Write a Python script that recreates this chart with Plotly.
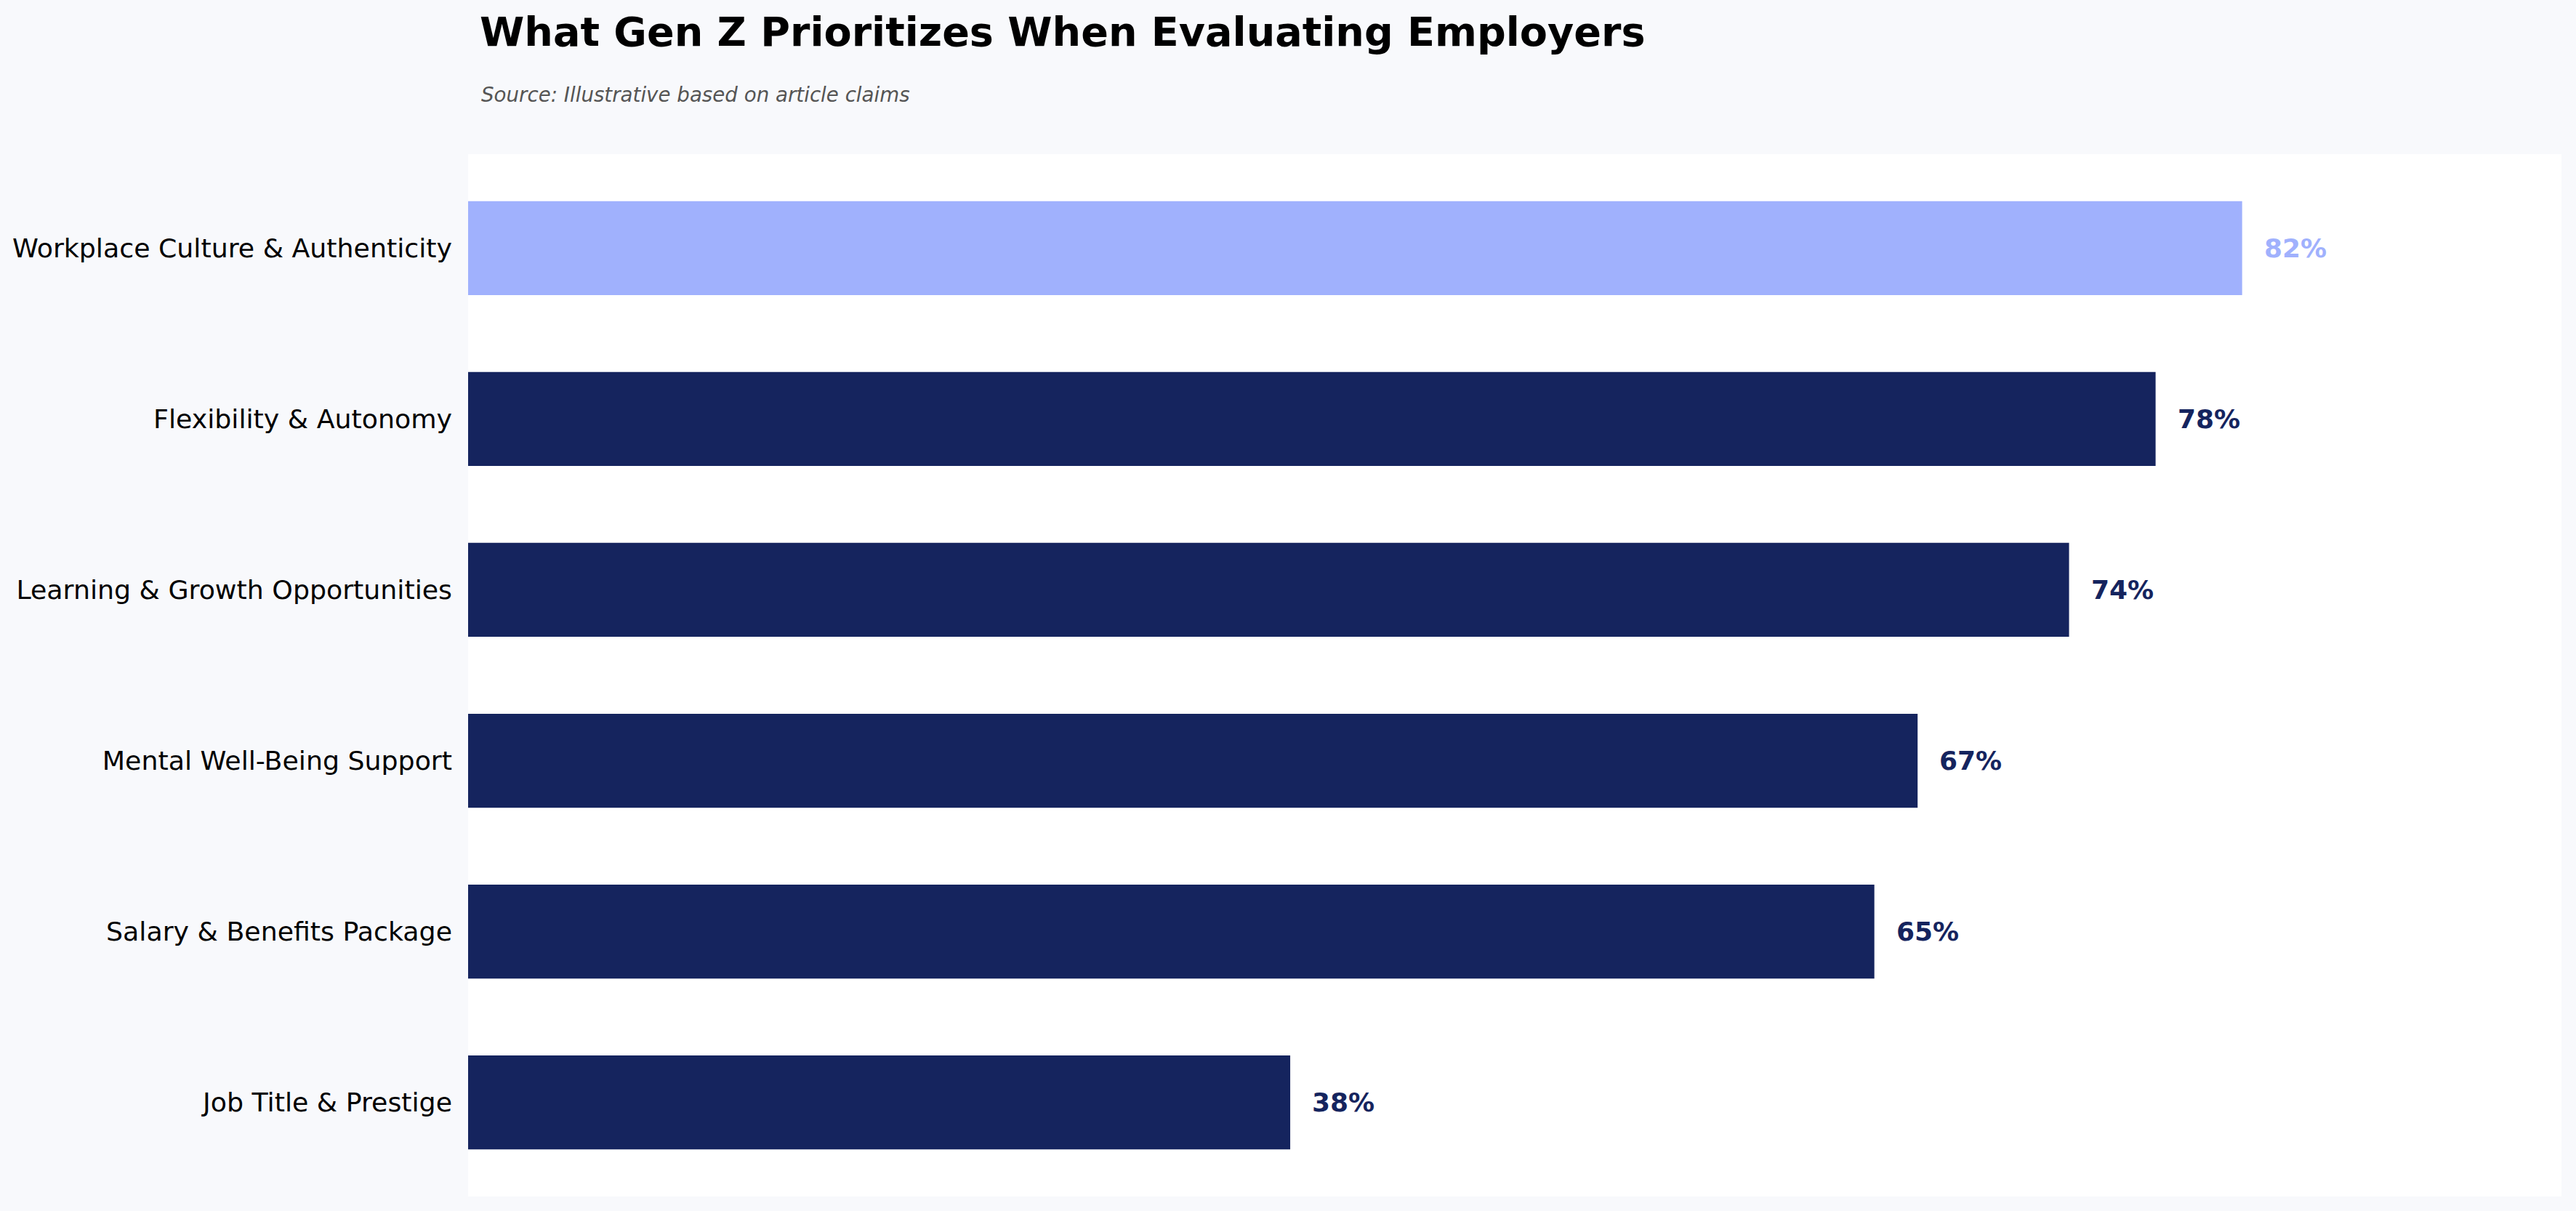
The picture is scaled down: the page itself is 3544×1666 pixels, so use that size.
import plotly.graph_objects as go

categories = [
    "Workplace Culture & Authenticity",
    "Flexibility & Autonomy",
    "Learning & Growth Opportunities",
    "Mental Well-Being Support",
    "Salary & Benefits Package",
    "Job Title & Prestige",
]
values = [82, 78, 74, 67, 65, 38]
labels = [f"{v}%" for v in values]

highlight_color = "#a0b1fd"
base_color = "#15245e"
colors = [highlight_color if i == 0 else base_color for i in range(len(values))]

FONT = "DejaVu Sans"

fig = go.Figure()
fig.add_trace(go.Bar(
    x=values,
    y=categories,
    orientation="h",
    marker=dict(color=colors, line=dict(width=0)),
    width=0.55,
    hoverinfo="x+y",
))

for cat, v, lab, c in zip(categories, values, labels, colors):
    fig.add_annotation(
        x=v, y=cat, xref="x", yref="y",
        text=f"<b>{lab}</b>", showarrow=False,
        xanchor="left", yanchor="middle", xshift=28,
        font=dict(family=FONT, size=36, color=c),
    )

fig.add_annotation(
    xref="paper", yref="paper", x=0, y=1, xshift=16, yshift=82,
    xanchor="left", yanchor="middle",
    text="<i>Source: Illustrative based on article claims</i>",
    showarrow=False,
    font=dict(family=FONT, size=27.7, color="#555555"),
)

fig.update_layout(
    width=3544, height=1666,
    paper_bgcolor="#f8f9fc",
    plot_bgcolor="#ffffff",
    margin=dict(l=644, r=20, t=212, b=20),
    showlegend=False,
    title=dict(
        text="<b>What Gen Z Prioritizes When Evaluating Employers</b>",
        xref="container", yref="container",
        x=660/3544, xanchor="left",
        y=1 - 44/1666, yanchor="middle",
        font=dict(family=FONT, size=55.6, color="#000000"),
    ),
    xaxis=dict(
        range=[0, max(values) * 1.18],
        showgrid=False, zeroline=False, showticklabels=False,
        showline=False, ticks="",
    ),
    yaxis=dict(
        type="category",
        categoryorder="array", categoryarray=categories,
        range=[len(categories) - 1 + 0.55, -0.55],
        showgrid=False, zeroline=False, showline=False,
        ticks="", ticklabelstandoff=21,
        tickfont=dict(family=FONT, size=36.3, color="#000000"),
    ),
)

fig.write_html("out.html")
